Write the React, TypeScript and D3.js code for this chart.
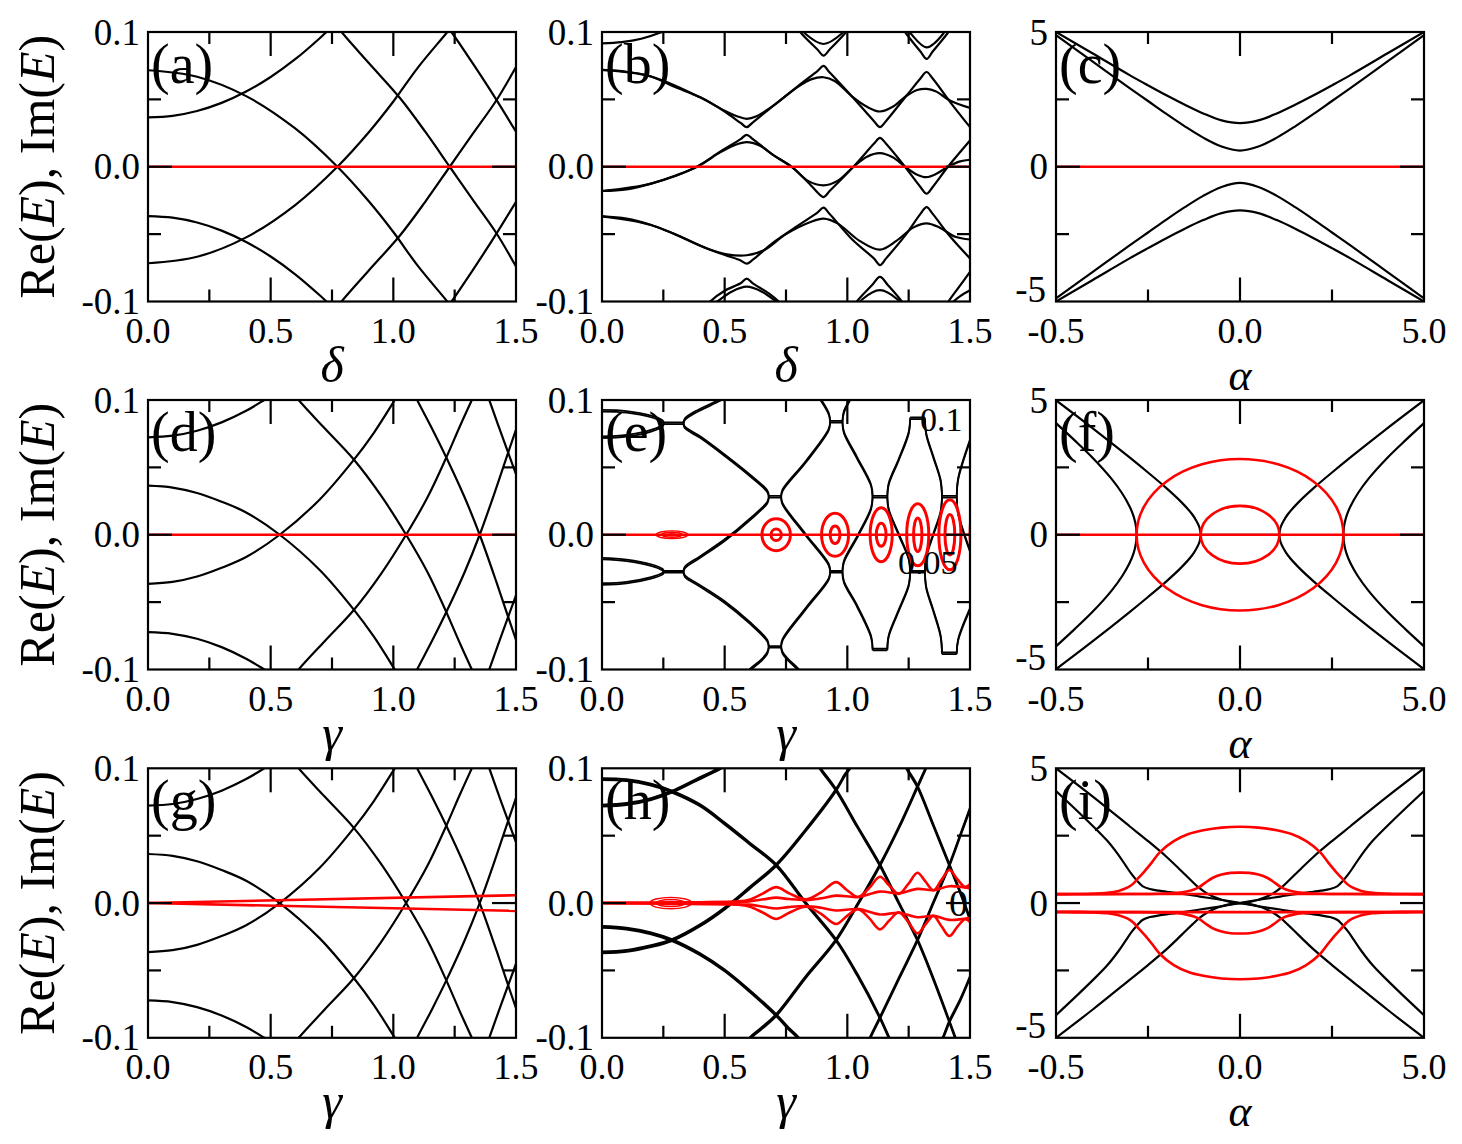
import React from 'react';
import * as d3 from 'd3';

type Pt = [number, number];
type Ell = [number, number, number, number];
type NodeP = [number, number, number];

const FONT = "'Liberation Serif', 'Times New Roman', Times, serif";
const PW = 368;
const PH = 269.5;
const COL_X = [148, 602, 1056];
const ROW_Y = [32, 400, 768.3];

// ---------------- ticks ----------------
const smallXTicks = [0, 0.5, 1.0, 1.5];
const smallXLabels = ['0.0', '0.5', '1.0', '1.5'];
const smallXMinor = [0.25, 0.75, 1.25];
const smallYTicks = [-0.1, 0, 0.1];
const smallYLabels = ['-0.1', '0.0', '0.1'];
const smallYMinor = [-0.05, 0.05];
const bigXTicks = [-5, 0, 5];
const bigXLabels = ['-0.5', '0.0', '5.0'];
const bigXMinor = [-2.5, 2.5];
const bigYTicks = [-5, 0, 5];
const bigYLabels = ['-5', '0', '5'];
const bigYMinor = [-2.5, 2.5];

// ---------------- panel (a) : upper branches (spectrum symmetric in E) ----------------
const aCurve1: Pt[] = [[0, 0.0366], [0.1, 0.0378], [0.2, 0.0414], [0.3, 0.0474], [0.4, 0.0558], [0.5, 0.0666], [0.6, 0.0798], [0.7, 0.0954], [0.75, 0.104]];
const aCurve2: Pt[] = [[0, 0.0716], [0.2, 0.0668], [0.4, 0.0524], [0.6, 0.0284], [0.772, 0], [0.9, -0.0256], [1.0, -0.0484], [1.1, -0.0736], [1.22, -0.1], [1.25, -0.107]];
const aCurve3: Pt[] = [[0.76, 0.107], [0.789, 0.1], [0.9, 0.077], [1.027, 0.051], [1.13, 0.026], [1.23, 0], [1.33, -0.026], [1.419, -0.049], [1.5, -0.074]];
const aCurve4: Pt[] = [[1.22, 0.104], [1.237, 0.1], [1.33, 0.075], [1.419, 0.05], [1.5, 0.026]];

// ---------------- panel (b) ----------------
const bTop0: Pt[] = [[0, 0.0916], [0.08, 0.0925], [0.16, 0.095], [0.244, 0.1], [0.28, 0.103]];
const bUpSharp: Pt[] = [[0, 0.0719], [0.1, 0.0705], [0.2, 0.067], [0.29, 0.0597], [0.4, 0.0515], [0.5, 0.041], [0.565, 0.0325], [0.59, 0.0294], [0.615, 0.033], [0.7, 0.0455], [0.8, 0.06], [0.878, 0.071], [0.903, 0.0748], [0.928, 0.07], [1.02, 0.052], [1.108, 0.034], [1.133, 0.0294], [1.158, 0.034], [1.24, 0.0525], [1.298, 0.0655], [1.323, 0.0703], [1.348, 0.0655], [1.42, 0.0478], [1.5, 0.0294]];
const bUpRound: Pt[] = [[0, 0.0719], [0.2, 0.067], [0.4, 0.0515], [0.5, 0.0415], [0.55, 0.0375], [0.59, 0.0356], [0.63, 0.0375], [0.7, 0.0455], [0.8, 0.0595], [0.855, 0.065], [0.903, 0.0664], [0.95, 0.0635], [1.02, 0.052], [1.08, 0.0445], [1.133, 0.041], [1.185, 0.0445], [1.24, 0.0525], [1.285, 0.057], [1.323, 0.0578], [1.36, 0.056], [1.42, 0.049], [1.5, 0.0437]];
const bMidSharp: Pt[] = [[0, -0.018], [0.1, -0.0168], [0.2, -0.0125], [0.3, -0.0065], [0.387, 0], [0.48, 0.011], [0.565, 0.0205], [0.59, 0.0237], [0.615, 0.0205], [0.7, 0.0085], [0.776, -0.0005], [0.85, -0.0135], [0.878, -0.019], [0.903, -0.0225], [0.928, -0.018], [1.025, 0], [1.108, 0.017], [1.133, 0.0215], [1.158, 0.017], [1.235, 0], [1.298, -0.015], [1.323, -0.02], [1.348, -0.015], [1.41, 0], [1.5, 0.0195]];
const bMidRound: Pt[] = [[0, -0.018], [0.2, -0.0125], [0.387, 0], [0.48, 0.0105], [0.54, 0.016], [0.59, 0.0183], [0.64, 0.016], [0.7, 0.0085], [0.776, -0.0005], [0.84, -0.0105], [0.903, -0.0138], [0.96, -0.0105], [1.025, 0], [1.08, 0.0075], [1.133, 0.0101], [1.185, 0.007], [1.235, 0], [1.28, -0.0055], [1.323, -0.0077], [1.365, -0.005], [1.41, 0], [1.46, 0.004], [1.5, 0.0052]];
const bLowSharp: Pt[] = [[0, -0.0368], [0.1, -0.0385], [0.2, -0.0432], [0.292, -0.0496], [0.428, -0.0607], [0.509, -0.066], [0.565, -0.0695], [0.59, -0.0719], [0.615, -0.069], [0.7, -0.056], [0.8, -0.0435], [0.878, -0.034], [0.903, -0.0304], [0.928, -0.035], [1.02, -0.054], [1.108, -0.068], [1.133, -0.073], [1.158, -0.068], [1.24, -0.05], [1.298, -0.035], [1.323, -0.03], [1.348, -0.035], [1.42, -0.052], [1.5, -0.068]];
const bLowRound: Pt[] = [[0, -0.0368], [0.2, -0.0432], [0.428, -0.0607], [0.509, -0.065], [0.59, -0.0657], [0.66, -0.062], [0.75, -0.05], [0.85, -0.041], [0.903, -0.0385], [0.96, -0.042], [1.05, -0.055], [1.133, -0.0615], [1.2, -0.055], [1.27, -0.045], [1.323, -0.042], [1.375, -0.045], [1.44, -0.052], [1.5, -0.054]];
const bBot1Sharp: Pt[] = [[0.42, -0.105], [0.441, -0.1], [0.5, -0.092], [0.565, -0.0865], [0.59, -0.083], [0.615, -0.0865], [0.68, -0.094], [0.72, -0.1], [0.74, -0.104]];
const bBot1Round: Pt[] = [[0.45, -0.103], [0.47, -0.1], [0.53, -0.0925], [0.59, -0.089], [0.65, -0.0925], [0.71, -0.1], [0.73, -0.103]];
const bBot2Sharp: Pt[] = [[1.025, -0.105], [1.039, -0.1], [1.1, -0.088], [1.133, -0.0817], [1.166, -0.088], [1.222, -0.1], [1.235, -0.104]];
const bBot2Round: Pt[] = [[1.045, -0.102], [1.06, -0.0985], [1.133, -0.0916], [1.205, -0.0985], [1.22, -0.102]];
const bBot3Sharp: Pt[] = [[1.4, -0.104], [1.412, -0.1], [1.46, -0.088], [1.5, -0.078]];
const bBot3Round: Pt[] = [[1.42, -0.102], [1.46, -0.096], [1.5, -0.0916]];
const bTop1Sharp: Pt[] = [[0.795, 0.104], [0.808, 0.1], [0.878, 0.087], [0.903, 0.0825], [0.928, 0.087], [0.995, 0.1], [1.01, 0.104]];
const bTop1Round: Pt[] = [[0.815, 0.102], [0.83, 0.0985], [0.903, 0.0911], [0.975, 0.0985], [0.99, 0.102]];
const bTop2Sharp: Pt[] = [[1.22, 0.104], [1.235, 0.1], [1.298, 0.0855], [1.3235, 0.08], [1.348, 0.0855], [1.412, 0.1], [1.425, 0.104]];
const bTop2Round: Pt[] = [[1.245, 0.102], [1.26, 0.0985], [1.3235, 0.0886], [1.39, 0.0985], [1.4, 0.102]];

// ---------------- panel (c) ----------------
const cOuter: Pt[] = [[-5, 5.0], [-4, 4.2], [-3, 3.4], [-2.5, 3.02], [-2, 2.65], [-1.5, 2.3], [-1, 1.98], [-0.5, 1.72], [0, 1.62], [0.5, 1.72], [1, 1.98], [1.5, 2.3], [2, 2.65], [2.5, 3.02], [3, 3.4], [4, 4.2], [5, 5.0]];
const cInner: Pt[] = [[-5, 4.88], [-4, 3.9], [-3, 2.92], [-2.5, 2.44], [-2, 1.96], [-1.5, 1.5], [-1, 1.08], [-0.5, 0.75], [0, 0.6], [0.5, 0.75], [1, 1.08], [1.5, 1.5], [2, 1.96], [2.5, 2.44], [3, 2.92], [4, 3.9], [5, 4.88]];

// ---------------- panel (d) / (g) black (symmetric in E) ----------------
const dCurve1: Pt[] = [[0, 0.0723], [0.1, 0.0735], [0.2, 0.0772], [0.3, 0.0834], [0.4, 0.092], [0.474, 0.1], [0.5, 0.103]];
const dCurve2: Pt[] = [[0, 0.0364], [0.1, 0.035], [0.2, 0.031], [0.3, 0.0245], [0.4, 0.0165], [0.537, 0], [0.7, -0.0262], [0.838, -0.0554], [0.92, -0.0755], [1.006, -0.1], [1.03, -0.107]];
const dCurve3: Pt[] = [[0.58, 0.108], [0.614, 0.1], [0.72, 0.079], [0.838, 0.056], [0.95, 0.029], [1.052, 0], [1.14, -0.028], [1.216, -0.0574], [1.27, -0.08], [1.32, -0.1], [1.34, -0.108]];
const dCurve4: Pt[] = [[1.07, 0.11], [1.097, 0.1], [1.16, 0.078], [1.216, 0.0574], [1.29, 0.028], [1.352, 0], [1.42, -0.035], [1.468, -0.061], [1.5, -0.078]];
const dCurve5: Pt[] = [[1.37, 0.11], [1.391, 0.1], [1.43, 0.08], [1.468, 0.061], [1.5, 0.045]];
const gRedUp: Pt[] = [[0, 0], [1.5, 0.0058]];

// ---------------- panels (e)/(h) black arcs ----------------
const hArcA: Pt[] = [[0, 0.0723], [0.1, 0.0735], [0.2, 0.0772], [0.285, 0.0827], [0.38, 0.091], [0.482, 0.1], [0.52, 0.104]];
const hArcB: Pt[] = [[0, 0.092], [0.1, 0.0912], [0.2, 0.0878], [0.285, 0.0827], [0.4, 0.0725], [0.5, 0.059], [0.6, 0.0445], [0.71, 0.0282], [0.83, 0], [0.954, -0.0275], [1.04, -0.053], [1.133, -0.0851], [1.17, -0.1], [1.19, -0.108]];
const hArcC: Pt[] = [[0, -0.0177], [0.1, -0.019], [0.2, -0.0225], [0.285, -0.0275], [0.4, -0.038], [0.5, -0.05], [0.6, -0.065], [0.71, -0.0832], [0.76, -0.093], [0.8, -0.1], [0.82, -0.105]];
const hArcD: Pt[] = [[0, -0.0366], [0.1, -0.0355], [0.2, -0.032], [0.285, -0.0275], [0.4, -0.0165], [0.5, -0.004], [0.6, 0.011], [0.71, 0.0282], [0.83, 0.054], [0.954, 0.0839], [0.99, 0.095], [1.01, 0.1], [1.03, 0.106]];
const hArcE: Pt[] = [[0.58, -0.105], [0.604, -0.1], [0.65, -0.093], [0.71, -0.0832], [0.83, -0.055], [0.954, -0.0275], [1.045, 0], [1.133, 0.0282], [1.21, 0.056], [1.286, 0.0864], [1.32, 0.1], [1.335, 0.106]];
const hArcF: Pt[] = [[0.87, 0.106], [0.889, 0.1], [0.954, 0.0839], [1.04, 0.057], [1.133, 0.0282], [1.21, 0], [1.286, -0.0275], [1.35, -0.056], [1.416, -0.088], [1.44, -0.1], [1.45, -0.105]];
const hArcG: Pt[] = [[1.08, -0.106], [1.093, -0.1], [1.133, -0.0851], [1.21, -0.056], [1.286, -0.0275], [1.35, 0], [1.416, 0.0282], [1.46, 0.05], [1.5, 0.07]];
const hArcH: Pt[] = [[1.23, 0.106], [1.242, 0.1], [1.286, 0.0864], [1.35, 0.058], [1.416, 0.0282], [1.46, 0.008], [1.5, -0.012]];
const hArcI: Pt[] = [[1.375, -0.106], [1.39, -0.1], [1.416, -0.088], [1.46, -0.072], [1.5, -0.055]];
// exceptional-point bars of panel (e): [gamma, E, half-width]
const eNodes: NodeP[] = [
  [0.292, 0.0827, 0.04], [0.292, -0.0275, 0.04],
  [0.705, 0.0282, 0.025], [0.705, -0.0832, 0.025],
  [0.955, 0.0839, 0.025], [0.955, -0.0275, 0.025],
  [1.133, 0.0282, 0.03], [1.133, -0.0851, 0.03],
  [1.286, 0.0864, 0.03], [1.286, -0.0275, 0.03],
  [1.416, 0.0282, 0.03], [1.416, -0.088, 0.03],
];
// red bubbles of (e): [gamma, E, half-width, half-height]
const eRedEll: Ell[] = [
  [0.71, 0, 0.058, 0.0118], [0.71, 0, 0.021, 0.0043],
  [0.95, 0, 0.055, 0.016], [0.95, 0, 0.02, 0.0065],
  [1.138, 0, 0.045, 0.02], [1.138, 0, 0.02, 0.0085],
  [1.287, 0, 0.045, 0.023], [1.287, 0, 0.017, 0.0125],
  [1.418, 0, 0.045, 0.026], [1.418, 0, 0.02, 0.015],
  [1.545, 0, 0.045, 0.028],
];
const eRedEllThin: Ell[] = [[0.285, 0, 0.064, 0.0029], [0.285, 0, 0.042, 0.0018], [0.285, 0, 0.018, 0.0007]];

// ---------------- panel (h) red ----------------
const hRedOuterUp: Pt[] = [[0, 0], [0.2, 0.0002], [0.4, 0.0006], [0.55, 0.0012], [0.6, 0.0025], [0.655, 0.007], [0.71, 0.0118], [0.765, 0.007], [0.832, 0.0028], [0.893, 0.008], [0.954, 0.0155], [0.999, 0.0095], [1.044, 0.0045], [1.088, 0.011], [1.133, 0.0195], [1.171, 0.013], [1.21, 0.0068], [1.248, 0.014], [1.286, 0.0225], [1.318, 0.016], [1.351, 0.0095], [1.383, 0.017], [1.416, 0.0245], [1.449, 0.0175], [1.48, 0.012], [1.5, 0.014]];
const hRedInnerUp: Pt[] = [[0, 0], [0.3, 0.0004], [0.5, 0.0008], [0.6, 0.0012], [0.66, 0.0028], [0.71, 0.004], [0.76, 0.003], [0.832, 0.0022], [0.893, 0.0035], [0.954, 0.0055], [1.044, 0.0045], [1.133, 0.0085], [1.21, 0.0072], [1.286, 0.0105], [1.351, 0.0095], [1.416, 0.0125], [1.5, 0.011]];
const hRedLens: Ell[] = [[0.28, 0, 0.085, 0.0042], [0.28, 0, 0.06, 0.0026], [0.28, 0, 0.035, 0.0012]];

// ---------------- panel (f) ----------------
const fInnerBranchL: Pt[] = [[-5, 4.99], [-4, 3.95], [-3, 2.87], [-2.5, 2.31], [-2, 1.73], [-1.6, 1.22], [-1.3, 0.76], [-1.18, 0.5], [-1.11, 0.3], [-1.08, 0.15], [-1.07, 0]];
const fOuterBranchL: Pt[] = [[-5, 4.14], [-4.5, 3.51], [-4, 2.85], [-3.5, 2.09], [-3.2, 1.53], [-3.0, 1.05], [-2.9, 0.72], [-2.85, 0.47], [-2.82, 0.24], [-2.81, 0]];
const fZeroSeg: Pt[] = [[-1.07, 0], [1.07, 0]];
const fRedCircles: Ell[] = [[0, 0, 1.07, 1.07], [0, 0, 2.81, 2.81]];

// ---------------- panel (i) ----------------
const iBlack1L: Pt[] = [[-5, 5.0], [-4, 3.95], [-3, 2.85], [-2.5, 2.3], [-2, 1.72], [-1.6, 1.2], [-1.3, 0.8], [-1.1, 0.55], [-0.9, 0.36], [-0.7, 0.22], [-0.5, 0.12], [-0.3, 0.05], [0, 0]];
const iBlack2L: Pt[] = [[-5, 4.16], [-4.5, 3.52], [-4, 2.86], [-3.6, 2.3], [-3.3, 1.78], [-3.1, 1.38], [-2.95, 1.08], [-2.8, 0.83], [-2.65, 0.63], [-2.45, 0.52], [-2.2, 0.46], [-2, 0.42], [-1.5, 0.33], [-1.09, 0.24], [-0.6, 0.14], [-0.3, 0.07], [0, 0]];
const iRedOuterL: Pt[] = [[-5, 0.33], [-4.5, 0.335], [-4, 0.345], [-3.6, 0.38], [-3.3, 0.45], [-3.05, 0.58], [-2.9, 0.72], [-2.75, 0.95], [-2.6, 1.17], [-2.4, 1.5], [-2.17, 1.9], [-1.8, 2.3], [-1.4, 2.56], [-1, 2.7], [-0.5, 2.8], [0, 2.83]];
const iRedInnerL: Pt[] = [[-5, 0.325], [-4, 0.33], [-3, 0.335], [-2.2, 0.345], [-1.7, 0.38], [-1.45, 0.43], [-1.25, 0.5], [-1.1, 0.6], [-0.95, 0.75], [-0.75, 0.93], [-0.5, 1.06], [-0.25, 1.12], [0, 1.13]];
const iRedFlat: Pt[] = [[-5, 0.336], [5, 0.336]];

// ---------------- helpers ----------------
const negY = (c: Pt[]): Pt[] => c.map(([a, b]) => [a, -b] as Pt);
const flipX = (c: Pt[]): Pt[] => c.map(([a, b]) => [-a, b] as Pt);
const symX = (c: Pt[]): Pt[] => [...c, ...c.slice(0, -1).reverse().map(([a, b]) => [-a, b] as Pt)];
const withMirror = (cs: Pt[][]): Pt[][] => [...cs, ...cs.map(negY)];

function interpAt(arc: Pt[], g: number): number {
  for (let i = 0; i < arc.length - 1; i++) {
    const [x0, y0] = arc[i];
    const [x1, y1] = arc[i + 1];
    if (g >= x0 && g <= x1) return y0 + ((y1 - y0) * (g - x0)) / (x1 - x0);
  }
  return NaN;
}

// cut an arc at the exceptional-point bars it passes through
function splitAtNodes(arc: Pt[], nodes: NodeP[]): Pt[][] {
  const hits = nodes
    .filter((n) => {
      const v = interpAt(arc, n[0]);
      return !isNaN(v) && Math.abs(v - n[1]) < 0.004;
    })
    .sort((p, q) => p[0] - q[0]);
  const pieces: Pt[][] = [];
  let start: Pt[] = [arc[0]];
  let lo = arc[0][0];
  for (const [g, e, w] of hits) {
    const hi = g - w;
    const mid = arc.filter((p) => p[0] > lo + 0.02 && p[0] < hi - 0.02);
    const far = interpAt(arc, hi - 0.03);
    pieces.push([...start, ...mid, [hi - 0.006, e + (far - e) * 0.45], [hi, e]]);
    const lo2 = g + w;
    const far2 = interpAt(arc, lo2 + 0.03);
    start = [[lo2, e], [lo2 + 0.006, e + (far2 - e) * 0.45]];
    lo = lo2;
  }
  pieces.push([...start, ...arc.filter((p) => p[0] > lo + 0.02)]);
  return pieces;
}

const hArcs = [hArcA, hArcB, hArcC, hArcD, hArcE, hArcF, hArcG, hArcH, hArcI];
const eArcs: Pt[][] = [
  ...hArcs.flatMap((a) => splitAtNodes(a, eNodes)),
  ...eNodes.map(([g, e, w]) => [[g - w, e], [g + w, e]] as Pt[]),
];

interface TextSpec { x: number; y: number; t: string; size: number }
interface PanelSpec {
  label: string;
  col: number;
  row: number;
  big: boolean;
  xTitle: string;
  black: Pt[][];
  blackDouble?: number;
  blackW?: number;
  red: Pt[][];
  redEll?: Ell[];
  redEllThin?: Ell[];
  redW?: number;
  ellW?: number;
  texts?: TextSpec[];
}

const dBlack = withMirror([dCurve1, dCurve2, dCurve3, dCurve4, dCurve5]);

const PANELS: PanelSpec[] = [
  { label: '(a)', col: 0, row: 0, big: false, xTitle: 'δ', black: withMirror([aCurve1, aCurve2, aCurve3, aCurve4]), red: [[[0, 0], [1.5, 0]]] },
  {
    label: '(b)', col: 1, row: 0, big: false, xTitle: 'δ',
    black: [bTop0, bUpSharp, bUpRound, bMidSharp, bMidRound, bLowSharp, bLowRound, bBot1Sharp, bBot1Round, bBot2Sharp, bBot2Round, bBot3Sharp, bBot3Round, bTop1Sharp, bTop1Round, bTop2Sharp, bTop2Round],
    red: [[[0, 0], [1.5, 0]]],
  },
  { label: '(c)', col: 2, row: 0, big: true, xTitle: 'α', black: withMirror([cOuter, cInner]), red: [[[-5, 0], [5, 0]]] },
  { label: '(d)', col: 0, row: 1, big: false, xTitle: 'γ', black: dBlack, red: [[[0, 0], [1.5, 0]]] },
  {
    label: '(e)', col: 1, row: 1, big: false, xTitle: 'γ', black: eArcs, blackDouble: 0.0006, blackW: 1.8,
    red: [[[0, 0], [1.5, 0]]], redEll: eRedEll, redEllThin: eRedEllThin, redW: 2.6, ellW: 3,
    texts: [{ x: 1.296, y: 0.077, t: '0.1', size: 34 }, { x: 1.207, y: -0.0291, t: '0.05', size: 34 }],
  },
  {
    label: '(f)', col: 2, row: 1, big: true, xTitle: 'α',
    black: [...withMirror([fInnerBranchL, fOuterBranchL, flipX(fInnerBranchL), flipX(fOuterBranchL)]), fZeroSeg],
    red: [[[-5, 0], [5, 0]]], redEll: fRedCircles,
  },
  { label: '(g)', col: 0, row: 2, big: false, xTitle: 'γ', black: dBlack, red: [gRedUp, negY(gRedUp)] },
  {
    label: '(h)', col: 1, row: 2, big: false, xTitle: 'γ', black: hArcs, blackDouble: 0.0006, blackW: 2.2,
    red: withMirror([hRedOuterUp, hRedInnerUp]), redEllThin: hRedLens, redW: 2.6,
    texts: [{ x: 1.414, y: -0.0098, t: '0', size: 38 }],
  },
  {
    label: '(i)', col: 2, row: 2, big: true, xTitle: 'α',
    black: withMirror([iBlack1L, iBlack2L, flipX(iBlack1L), flipX(iBlack2L)]),
    red: withMirror([symX(iRedOuterL), symX(iRedInnerL), iRedFlat]),
  },
];

function Panel({ spec }: { spec: PanelSpec }) {
  const left = COL_X[spec.col];
  const top = ROW_Y[spec.row];
  const xDom = spec.big ? [-5, 5] : [0, 1.5];
  const yDom = spec.big ? [-5, 5] : [-0.1, 0.1];
  const x = d3.scaleLinear().domain(xDom).range([left, left + PW]);
  const y = d3.scaleLinear().domain(yDom).range([top + PH, top]);
  const line = d3
    .line<Pt>()
    .x((d) => x(d[0]))
    .y((d) => y(d[1]))
    .curve(d3.curveCatmullRom.alpha(0.5));
  const clipId = `clip-${spec.label.replace(/[()]/g, '')}`;
  const xTicks = spec.big ? bigXTicks : smallXTicks;
  const xLabels = spec.big ? bigXLabels : smallXLabels;
  const xMinor = spec.big ? bigXMinor : smallXMinor;
  const yTicks = spec.big ? bigYTicks : smallYTicks;
  const yLabels = spec.big ? bigYLabels : smallYLabels;
  const yMinor = spec.big ? bigYMinor : smallYMinor;
  const bw = spec.blackW ?? 2.2;
  const rw = spec.redW ?? 2.6;
  const ew = spec.ellW ?? rw;
  const offsets = spec.blackDouble ? [spec.blackDouble, -spec.blackDouble] : [0];
  const bottom = top + PH;
  const right = left + PW;
  const interiorX = xTicks.slice(1, -1);
  const interiorY = yTicks.slice(1, -1);
  const ellipse = (e: Ell, i: number, w: number, k: string) => {
    const [cx, cy, rx, ry] = e;
    return (
      <ellipse
        key={`${k}${i}`}
        cx={x(cx)}
        cy={y(cy)}
        rx={Math.abs(x(cx + rx) - x(cx))}
        ry={Math.abs(y(cy + ry) - y(cy))}
        fill="none"
        stroke="#ff0000"
        strokeWidth={w}
      />
    );
  };
  // alpha title sits right under the centred "0.0" label, so it is set a bit lower and smaller
  const titleSize = spec.big ? 44 : 50;
  const titleDy = spec.big ? 88 : 80;
  return (
    <g>
      <defs>
        <clipPath id={clipId}>
          <rect x={left} y={top} width={PW} height={PH} />
        </clipPath>
      </defs>
      <g clipPath={`url(#${clipId})`}>
        {spec.black.map((c, i) =>
          offsets.map((o, j) => (
            <path
              key={`b${i}-${j}`}
              d={line(o === 0 ? c : c.map(([a, b]) => [a, b + o] as Pt)) || ''}
              fill="none"
              stroke="#000"
              strokeWidth={bw}
              strokeLinejoin="round"
            />
          ))
        )}
        {spec.red.map((c, i) => (
          <path key={`r${i}`} d={line(c) || ''} fill="none" stroke="#ff0000" strokeWidth={rw} />
        ))}
        {(spec.redEll || []).map((e, i) => ellipse(e, i, ew, 'e'))}
        {(spec.redEllThin || []).map((e, i) => ellipse(e, i, 1.4, 'et'))}
        {(spec.texts || []).map((t, i) => (
          <text key={`t${i}`} x={x(t.x)} y={y(t.y)} fontFamily={FONT} fontSize={t.size} fill="#000">
            {t.t}
          </text>
        ))}
      </g>
      {/* frame */}
      <rect x={left} y={top} width={PW} height={PH} fill="none" stroke="#000" strokeWidth={2.2} />
      {/* ticks */}
      {interiorX.map((v, i) => (
        <g key={`xt${i}`}>
          <line x1={x(v)} x2={x(v)} y1={bottom} y2={bottom - 24} stroke="#000" strokeWidth={2.2} />
          <line x1={x(v)} x2={x(v)} y1={top} y2={top + 24} stroke="#000" strokeWidth={2.2} />
        </g>
      ))}
      {xMinor.map((v, i) => (
        <g key={`xm${i}`}>
          <line x1={x(v)} x2={x(v)} y1={bottom} y2={bottom - 12} stroke="#000" strokeWidth={2.2} />
          <line x1={x(v)} x2={x(v)} y1={top} y2={top + 12} stroke="#000" strokeWidth={2.2} />
        </g>
      ))}
      {interiorY.map((v, i) => (
        <g key={`yt${i}`}>
          <line x1={left} x2={left + 24} y1={y(v)} y2={y(v)} stroke="#000" strokeWidth={2.2} />
          <line x1={right} x2={right - 24} y1={y(v)} y2={y(v)} stroke="#000" strokeWidth={2.2} />
        </g>
      ))}
      {yMinor.map((v, i) => (
        <g key={`ym${i}`}>
          <line x1={left} x2={left + 13} y1={y(v)} y2={y(v)} stroke="#000" strokeWidth={2.2} />
          <line x1={right} x2={right - 13} y1={y(v)} y2={y(v)} stroke="#000" strokeWidth={2.2} />
        </g>
      ))}
      {/* tick labels */}
      {xTicks.map((v, i) => (
        <text key={`xl${i}`} x={x(v)} y={bottom + 41} textAnchor="middle" fontFamily={FONT} fontSize={36} fill="#000">
          {xLabels[i]}
        </text>
      ))}
      {yTicks.map((v, i) => {
        // the lowest label of the wide-range panels is lifted clear of the "-0.5" x label
        const lift = spec.big && i === 0 ? 12 : 0;
        return (
          <text
            key={`yl${i}`}
            x={left - (spec.big && i === 0 ? 10 : 8)}
            y={y(v) + 12.5 - lift}
            textAnchor="end"
            fontFamily={FONT}
            fontSize={37}
            fill="#000"
          >
            {yLabels[i]}
          </text>
        );
      })}
      {/* axis title */}
      <text x={left + PW / 2} y={bottom + titleDy} textAnchor="middle" fontFamily={FONT} fontStyle="italic" fontSize={titleSize} fill="#000">
        {spec.xTitle}
      </text>
      {/* panel label */}
      <text x={left + 3} y={top + 51} fontFamily={FONT} fontSize={56} fill="#000">
        {spec.label}
      </text>
    </g>
  );
}

export default function App() {
  return (
    <svg
      width={1462}
      height={1144}
      viewBox="0 0 1462 1144"
      style={{ position: 'absolute', left: 0, top: 0, background: '#fff' }}
    >
      <rect x={0} y={0} width={1462} height={1144} fill="#fff" />
      {PANELS.map((p) => (
        <Panel key={p.label} spec={p} />
      ))}
      {ROW_Y.map((t, i) => (
        <text
          key={`yl${i}`}
          transform={`translate(54, ${t + PH / 2}) rotate(-90)`}
          textAnchor="middle"
          fontFamily={FONT}
          fontSize={50}
          fill="#000"
        >
          Re(<tspan fontStyle="italic">E</tspan>), Im(<tspan fontStyle="italic">E</tspan>)
        </text>
      ))}
    </svg>
  );
}
